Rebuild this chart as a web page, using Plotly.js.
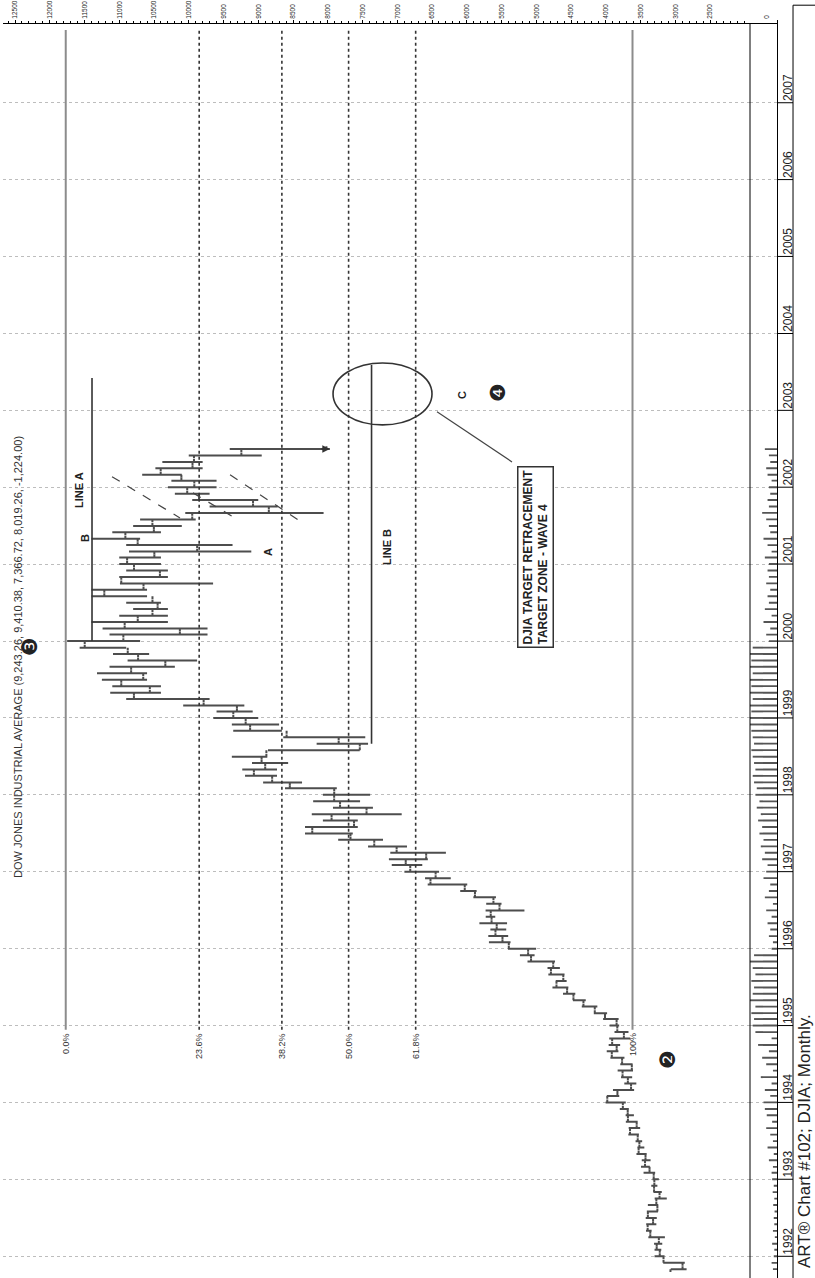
<!DOCTYPE html>
<html><head><meta charset="utf-8">
<script src="https://cdn.plot.ly/plotly-3.0.1.min.js"></script>
<style>
html,body{margin:0;padding:0;background:#fff;overflow:hidden;width:815px;height:1278px;}
#wrap{position:absolute;left:0;top:0;width:1278px;height:815px;transform-origin:0 0;transform:translate(0px,1278px) rotate(-90deg);}
#chart{width:1278px;height:815px;}
</style></head><body>
<div id="wrap"><div id="chart"></div></div>
<script>
// ---- data: DJIA monthly bars, Nov 1991 .. Jul 2002 ----
const firstMonth = [1991, 11];
const barOpen = [
 3069,2895,
 3169,3223,3267,3236,3359,3397,3319,3394,3257,3272,3226,3305,
 3301,3310,3370,3435,3428,3527,3516,3540,3651,3555,3681,3684,
 3754,3978,3832,3636,3682,3758,3625,3765,3913,3843,3908,3739,
 3834,3844,4011,4158,4321,4465,4556,4709,4611,4789,4756,5075,
 5117,5395,5486,5587,5569,5643,5655,5529,5616,5882,6029,6522,
 6448,6813,6878,6584,7009,7331,7673,8223,7622,7945,7442,7823,
 7908,7907,8546,8800,9063,8900,8952,8883,7539,7843,8592,9117,
 9181,9359,9307,9786,10789,10560,10971,10655,10829,10337,10729,10878,
 11497,10941,10128,10922,10734,10522,10448,10522,11215,10651,10971,10415,
 10788,10887,10495,9879,10735,10912,10502,10523,9950,8848,9075,9852,
 10022,9920,10106,10404,9946,9925,9243.26];
const barHigh = [
 3065,3173,
 3298,3298,3305,3387,3421,3418,3425,3409,3394,3296,3314,3345,
 3328,3456,3493,3482,3558,3545,3571,3675,3670,3711,3714,3798,
 4002,3985,3896,3733,3780,3829,3791,3933,3986,3958,3950,3874,
 3945,4038,4172,4345,4472,4615,4767,4720,4826,4838,5126,5235,
 5407,5681,5690,5660,5818,5727,5729,5720,5905,6094,6562,6600,
 6897,7079,7120,7100,7420,7850,8327,8327,8070,8230,7925,8210,
 8070,8615,8930,9190,9230,9090,9380,8860,8160,8640,9360,9380,
 9647,9600,10080,10900,11130,11100,11250,11320,11140,10880,11090,11570,
 11750,11140,11240,11400,11000,10800,10900,11400,11400,10990,11000,10900,
 11000,11000,10860,10900,11400,11100,10800,10700,10050,9700,9950,10200,
 10300,10250,10670,10480,10380,10000,9410.38];
const barLow = [
 2837,2863,
 3154,3201,3187,3149,3340,3272,3266,3249,3244,3122,3194,3257,
 3236,3289,3366,3355,3411,3445,3476,3523,3505,3541,3595,3668,
 3712,3806,3592,3560,3620,3608,3614,3731,3818,3793,3647,3673,
 3807,3815,3981,4121,4288,4438,4538,4563,4593,4660,4730,5024,
 5002,5370,5404,5432,5420,5590,5170,5500,5580,5858,5993,6230,
 6398,6640,6560,6300,6860,7205,7640,7568,7568,6936,7350,7535,
 7390,7870,8370,8730,8730,8570,8870,7540,7420,7460,8660,8700,
 9000,9080,9200,9700,10400,10400,10600,10600,10200,9880,10570,10900,
 10700,9730,9730,10300,10300,10300,10400,10600,10600,9650,10300,10300,
 10400,10400,9100,9370,10700,10400,10100,9900,8060,8720,9000,9700,
 9600,9600,10100,9800,9800,8950,7970];
const barClose = [
 2895,3169,
 3223,3267,3236,3359,3397,3319,3394,3257,3272,3226,3305,3301,
 3310,3370,3435,3428,3527,3516,3540,3651,3555,3681,3684,3754,
 3978,3832,3636,3682,3758,3625,3765,3913,3843,3908,3739,3834,
 3844,4011,4158,4321,4465,4556,4709,4611,4789,4756,5075,5117,
 5395,5486,5587,5569,5643,5655,5529,5616,5882,6029,6522,6448,
 6813,6878,6584,7009,7331,7673,8223,7622,7945,7442,7823,7908,
 7907,8546,8800,9063,8900,8952,8883,7539,7843,8592,9117,9181,
 9359,9307,9786,10789,10560,10971,10655,10829,10337,10729,10878,11497,
 10941,10128,10922,10734,10522,10448,10522,11215,10651,10971,10415,10788,
 10887,10495,9879,10735,10912,10502,10523,9950,8848,9075,9852,10022,
 9920,10106,10404,9946,9925,9243,8019.26];
const volume = [
 15,20,
 12,10,18,8,15,10,12,9,14,10,16,12,
 18,20,15,30,12,35,15,25,40,18,38,45,
 50,25,45,20,60,15,40,55,30,70,20,80,
 90,85,95,80,100,90,85,95,80,90,100,85,
 20,15,30,25,35,20,40,15,45,30,25,50,
 40,35,55,45,60,50,65,55,70,60,75,65,
 80,75,85,90,80,85,90,95,85,90,95,100,
 100,95,100,90,100,95,100,90,100,95,100,90,
 30,40,25,50,20,45,30,35,25,40,30,35,
 30,45,20,35,50,25,30,40,55,30,35,25,
 30,20,35,40,25,30,45];
const yearLabels = ['1992','1993','1994','1995','1996','1997','1998','1999','2000','2001','2002','2003','2004','2005','2006','2007'];
const priceTicks = [2500,3000,3500,4000,4500,5000,5500,6000,6500,7000,7500,8000,8500,9000,9500,10000,10500,11000,11500,12000,12500];
const fibLevels = [11770, 9850, 8660, 7700, 6735, 3615];
const fibLabels = ['0.0%', '23.6%', '38.2%', '50.0%', '61.8%', '100%'];
const lineBLevel = 7370;
const lineALevel = 11392;
const titleText = 'DOW JONES INDUSTRIAL AVERAGE (9,243.26, 9,410.38, 7,366.72, 8,019.26, -1,224.00)';

// month dates
const months = [];
{
  let y = firstMonth[0], m = firstMonth[1];
  for (let i = 0; i < barClose.length; i++) {
    months.push(y + '-' + String(m).padStart(2, '0') + '-01');
    m++; if (m > 12) { m = 1; y++; }
  }
}
const yearTickVals = yearLabels.map(y => y + '-01-01');

const BAR = '#4d4d4d';
const sans = 'Liberation Sans, Arial, sans-serif';

const traces = [
  {
    type: 'ohlc', x: months, open: barOpen, high: barHigh, low: barLow, close: barClose,
    increasing: {line: {color: BAR, width: 2}},
    decreasing: {line: {color: BAR, width: 2}},
    tickwidth: 0.5, hoverinfo: 'skip', xaxis: 'x', yaxis: 'y'
  },
  {
    type: 'bar', x: months, y: volume, xaxis: 'x', yaxis: 'y2',
    marker: {color: '#555', line: {width: 0}}, width: 9 * 86400000, hoverinfo: 'skip'
  }
];

const shapes = [];
fibLevels.forEach((lv, i) => {
  const solid = (i === 0 || i === fibLevels.length - 1);
  shapes.push({type: 'line', xref: 'x', yref: 'y', x0: '1994-12-12', x1: '2007-12-13', y0: lv, y1: lv,
    line: solid ? {color: '#8c8c8c', width: 2} : {color: '#333', width: 1.6, dash: 'dot'}});
});
// pane separator
shapes.push({type: 'line', xref: 'paper', yref: 'paper', x0: 0, x1: 1, y0: 0.03488, y1: 0.03488, line: {color: '#000', width: 1}});
// year separators in the date strip
yearTickVals.forEach(d => {
  shapes.push({type: 'line', xref: 'x', yref: 'paper', x0: d, x1: d, y0: 0, y1: -0.0207, line: {color: '#000', width: 1}});
});
// caption box
shapes.push({type: 'rect', xref: 'paper', yref: 'paper', x0: -0.01, x1: 1.015, y0: -0.0207, y1: -0.07, line: {color: '#000', width: 1}});
// line B and line A
shapes.push({type: 'line', xref: 'x', yref: 'y', x0: '1998-09-01', x1: '2003-08-04', y0: lineBLevel, y1: lineBLevel, line: {color: '#333', width: 1.6}});
shapes.push({type: 'line', xref: 'x', yref: 'y', x0: '2000-01-01', x1: '2003-06-04', y0: lineALevel, y1: lineALevel, line: {color: '#333', width: 1.6}});
// target ellipse + connector
shapes.push({type: 'circle', xref: 'x', yref: 'y', x0: '2002-10-24', x1: '2003-08-14', y0: 6500, y1: 7924, line: {color: '#333', width: 1.6}});
shapes.push({type: 'line', xref: 'x', yref: 'y', x0: '2002-12-25', x1: '2002-05-01', y0: 6428, y1: 5349, line: {color: '#444', width: 1.2}});
// dashed trend lines
shapes.push({type: 'line', xref: 'x', yref: 'y', x0: '2002-02-20', x1: '2001-08-08', y0: 11104, y1: 10126, line: {color: '#444', width: 1.2, dash: 'dash'}});
shapes.push({type: 'line', xref: 'x', yref: 'y', x0: '2002-03-01', x1: '2001-07-30', y0: 9406, y1: 8428, line: {color: '#444', width: 1.2, dash: 'dash'}});
shapes.push({type: 'line', xref: 'x', yref: 'y', x0: '2001-12-05', x1: '2001-07-30', y0: 9939, y1: 9291, line: {color: '#444', width: 1.2, dash: 'dash'}});

const ann = [];
ann.push({xref: 'paper', yref: 'paper', x: 0.317, y: 0.9806, xanchor: 'left', yanchor: 'middle', showarrow: false,
  text: titleText, font: {family: sans, size: 11, color: '#333'}});
fibLevels.forEach((lv, i) => {
  ann.push({xref: 'x', yref: 'y', x: '1994-12-05', y: lv, xanchor: 'right', yanchor: 'middle', showarrow: false,
    text: fibLabels[i], font: {family: sans, size: 9, color: '#333'}});
});
const circ = {family: 'DejaVu Sans, sans-serif', size: 21, color: '#222'};
ann.push({xref: 'x', yref: 'y', x: '1999-12-04', y: 12284, text: '\u2778', showarrow: false, font: circ});
ann.push({xref: 'x', yref: 'y', x: '1994-07-22', y: 3104, text: '\u2777', showarrow: false, font: circ});
ann.push({xref: 'x', yref: 'y', x: '2003-03-25', y: 5550, text: '\u2779', showarrow: false, font: circ});
const lbl = {family: sans, size: 11, color: '#222'};
ann.push({xref: 'x', yref: 'y', x: '2003-03-15', y: 6068, text: '<b>C</b>', showarrow: false, font: lbl});
ann.push({xref: 'x', yref: 'y', x: '2001-03-24', y: 7147, text: '<b>LINE B</b>', showarrow: false, font: lbl});
ann.push({xref: 'x', yref: 'y', x: '2001-12-19', y: 11580, text: '<b>LINE A</b>', showarrow: false, font: lbl});
ann.push({xref: 'x', yref: 'y', x: '2001-05-05', y: 11500, text: '<b>B</b>', showarrow: false, font: lbl});
ann.push({xref: 'x', yref: 'y', x: '2001-03-01', y: 8860, text: '<b>A</b>', showarrow: false, font: lbl});
ann.push({xref: 'x', yref: 'y', x: '2001-02-05', y: 5018, showarrow: false, align: 'left',
  text: '<b>DJIA TARGET RETRACEMENT<br>TARGET ZONE - WAVE 4</b>', font: {family: sans, size: 12, color: '#222'},
  bordercolor: '#333', borderwidth: 1.5, borderpad: 2, bgcolor: '#fff'});
// arrowhead at the end of the last (partial) month bar
ann.push({xref: 'x', yref: 'y', x: months[months.length - 1], y: barLow[barLow.length - 1], text: '',
  showarrow: true, arrowhead: 2, arrowsize: 1, arrowwidth: 1.5, arrowcolor: '#333', ax: 0, ay: -10, standoff: 0});
ann.push({xref: 'paper', yref: 'paper', x: 0.0063, y: -0.0349, xanchor: 'left', yanchor: 'middle', showarrow: false,
  text: 'ART\u00ae Chart #102; DJIA; Monthly.', font: {family: sans, size: 17, color: '#222'}});

const layout = {
  width: 1278, height: 815,
  margin: {l: 0, r: 24, t: 3, b: 38},
  paper_bgcolor: '#fff', plot_bgcolor: '#fff',
  showlegend: false,
  xaxis: {
    type: 'date', range: ['1991-09-20', '2008-01-10'], anchor: 'y2',
    tickmode: 'array', tickvals: yearTickVals, ticktext: yearLabels,
    ticks: '', ticklabelshift: 15,
    showline: true, linecolor: '#000', linewidth: 1,
    showgrid: true, gridcolor: '#bdbdbd', griddash: 'dot', gridwidth: 1,
    tickfont: {family: sans, size: 12, color: '#222'},
    rangeslider: {visible: false}, zeroline: false
  },
  yaxis: {
    domain: [0.03488, 1], range: [1924.5, 12672.7], side: 'right',
    tickmode: 'array', tickvals: priceTicks, ticktext: priceTicks.map(String),
    ticks: 'outside', ticklen: 3, tickcolor: '#000',
    minor: {tickmode: 'linear', tick0: 0, dtick: 100, ticks: 'outside', ticklen: 2, tickcolor: '#000'},
    showline: true, linecolor: '#000', showgrid: false, zeroline: false,
    tickfont: {family: sans, size: 6.5, color: '#222'}
  },
  yaxis2: {
    domain: [0, 0.03488], range: [0, 100], side: 'right',
    tickmode: 'array', tickvals: [0], ticktext: ['0'], ticklabelshift: -10,
    ticks: 'outside', ticklen: 3, tickcolor: '#000',
    showline: true, linecolor: '#000', showgrid: false, zeroline: false,
    tickfont: {family: sans, size: 6.5, color: '#222'}
  },
  shapes: shapes,
  annotations: ann
};
Plotly.newPlot('chart', traces, layout, {staticPlot: true, displayModeBar: false});
</script></body></html>
